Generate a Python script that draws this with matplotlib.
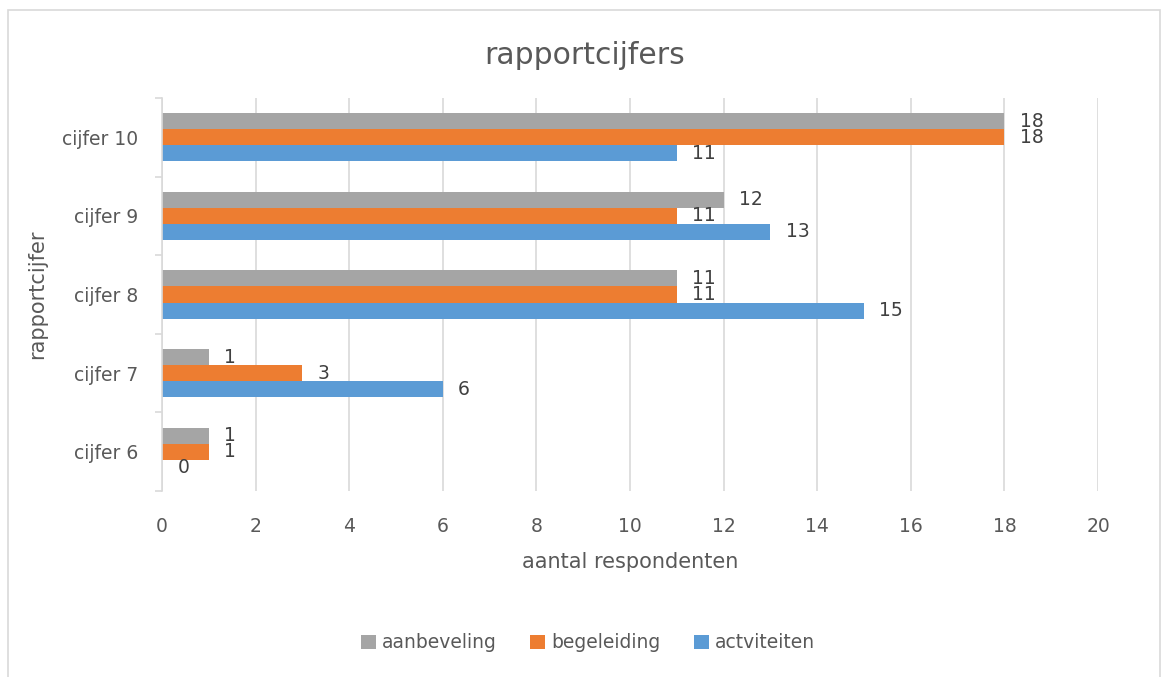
import numpy as np
import matplotlib.pyplot as plt
from matplotlib.patches import Rectangle

# categorieen en waarden
cijfers = ['cijfer 6', 'cijfer 7', 'cijfer 8', 'cijfer 9', 'cijfer 10']
aanbeveling = [1, 1, 11, 12, 18]
begeleiding = [1, 3, 11, 11, 18]
actviteiten = [0, 6, 15, 13, 11]

tekst = '#595959'
plt.rcParams['font.family'] = ['DejaVu Sans']

fig = plt.figure(figsize=(11.65, 6.77), dpi=100)
ax = fig.add_axes([162 / 1165, 1 - 491 / 677, (1098 - 162) / 1165, (491 - 98) / 677])

y = np.arange(len(cijfers))
h = 0.204
reeksen = [('aanbeveling', aanbeveling, '#A5A5A5', h),
           ('begeleiding', begeleiding, '#ED7D31', 0),
           ('actviteiten', actviteiten, '#5B9BD5', -h)]

for naam, waarden, kleur, dy in reeksen:
    bars = ax.barh(y + dy, waarden, height=h, color=kleur, label=naam, zorder=3)
    for b, v in zip(bars, waarden):
        ax.annotate(str(v), (v, b.get_y() + b.get_height() / 2), xytext=(11, 0),
                    textcoords='offset points', va='center', ha='left',
                    fontsize=13.5, color='#404040')

ax.set_xlim(0, 20)
ax.set_ylim(-0.5, len(cijfers) - 0.5)
ax.set_xticks(np.arange(0, 21, 2))
ax.set_yticks(y)
ax.set_yticklabels(cijfers)
ax.set_yticks(np.arange(-0.5, len(cijfers), 1), minor=True)
ax.tick_params(axis='y', which='major', length=0, pad=17, labelsize=13.5, labelcolor=tekst)
ax.tick_params(axis='y', which='minor', length=5, color='#d9d9d9', width=1.2)
ax.tick_params(axis='x', length=0, pad=19, labelsize=13.5, labelcolor=tekst)
ax.grid(axis='x', color='#d9d9d9', linewidth=1.2, zorder=0)
for s in ['top', 'right', 'bottom']:
    ax.spines[s].set_visible(False)
ax.spines['left'].set_color('#d9d9d9')
ax.spines['left'].set_linewidth(1.2)
ax.spines['left'].set_zorder(4)

ax.set_xlabel('aantal respondenten', fontsize=15, color=tekst, labelpad=11)
ax.set_ylabel('rapportcijfer', fontsize=15, color=tekst, labelpad=11)
fig.text(585 / 1165, 1 - 55 / 677, 'rapportcijfers', fontsize=21.5, color=tekst,
         ha='center', va='center')

handles, labels = ax.get_legend_handles_labels()
fig.legend(handles, labels, loc='center', bbox_to_anchor=(588 / 1165, 1 - 643 / 677),
           ncol=3, frameon=False, fontsize=13.5, labelcolor=tekst,
           handlelength=0.8, handleheight=0.8, handletextpad=0.3, columnspacing=1.8)

fig.patches.append(Rectangle((8 / 1165, -0.05), 1152 / 1165, 1.05 - 10 / 677,
                             transform=fig.transFigure, fill=False,
                             edgecolor='#d9d9d9', linewidth=1.2))

fig.savefig('out.png', dpi=100)
